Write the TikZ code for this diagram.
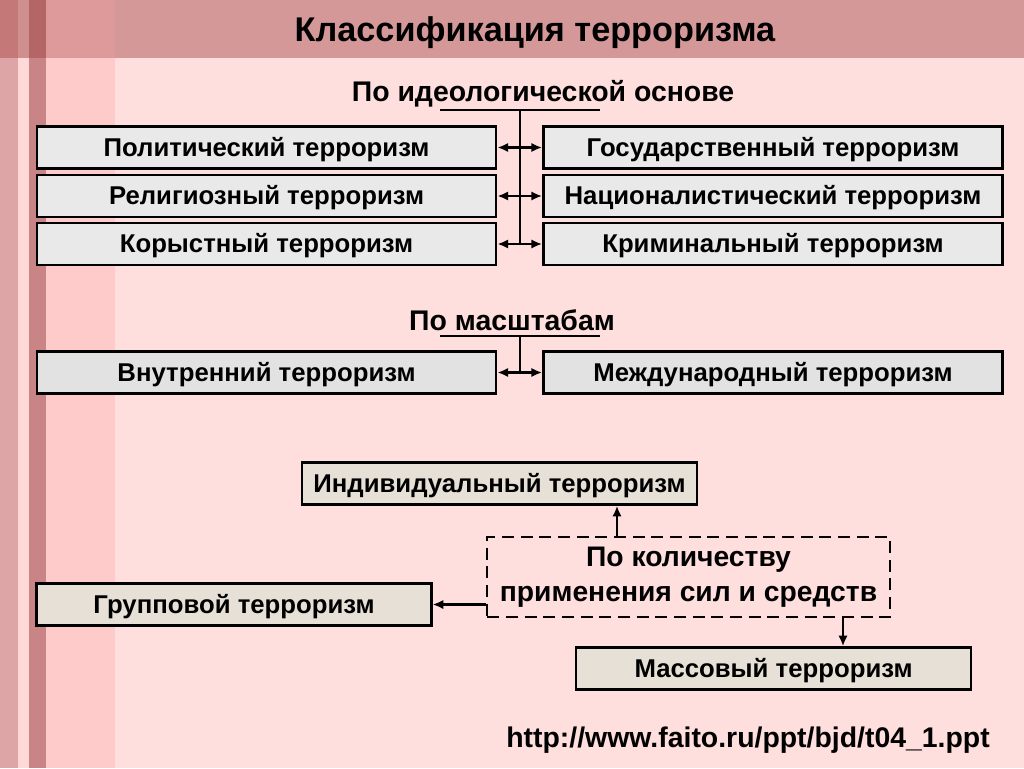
\documentclass[tikz,border=0pt]{standalone}
\usepackage{fontspec}
\setmainfont{Liberation Sans}
\usetikzlibrary{arrows.meta, positioning, calc}

\definecolor{bgpink}{HTML}{FFDEDE}
\definecolor{bgband}{HTML}{D49898}
\definecolor{stripa}{HTML}{DDA5A5}
\definecolor{stripb}{HTML}{FFD8D8}
\definecolor{stripc}{HTML}{C98585}
\definecolor{stripd}{HTML}{FFCACA}
\definecolor{banda}{HTML}{C47878}
\definecolor{bandb}{HTML}{CF8F8F}
\definecolor{bandc}{HTML}{B46666}
\definecolor{bandd}{HTML}{DE9A9A}
\definecolor{marble}{HTML}{E9E9E9}
\definecolor{marbledark}{HTML}{E2E2E2}
\definecolor{sand}{HTML}{E6E0D6}

\tikzset{
    termbox/.style={draw, line width=1.9pt, minimum height=31.5pt, inner sep=0pt,
        text height=15pt, text depth=2pt,
        font=\bfseries\fontsize{19.3}{23}\selectfont},
    widebox/.style={termbox, minimum width=344.5pt, fill=marble},
    sandbox/.style={termbox, minimum width=296pt, fill=sand},
    heading/.style={font=\bfseries\fontsize{21.3}{25}\selectfont, inner sep=0pt},
    link/.style={line width=1.9pt}
}

\begin{document}
\begin{tikzpicture}[x=0.75pt, y=-0.75pt, >={Latex[length=8pt, width=7pt]}]
        % background strips
        \fill[bgpink] (0,0) rectangle (1024,768);
        \fill[stripd] (46,0) rectangle (115,768);
        \fill[stripa] (0,0) rectangle (18,768);
        \fill[stripb] (18,0) rectangle (29,768);
        \fill[stripc] (29,0) rectangle (46,768);
        \fill[bgband] (0,0) rectangle (1024,58);
        \fill[bandd] (46,0) rectangle (115,58);
        \fill[banda] (0,0) rectangle (18,58);
        \fill[bandb] (18,0) rectangle (29,58);
        \fill[bandc] (29,0) rectangle (46,58);

        \node[heading, font=\bfseries\fontsize{25.7}{30}\selectfont] (title) at (535,33) {Классификация терроризма};

        % by ideology
        \node[heading] (ideo) at (543,94) {По идеологической основе};
        \node[widebox] (pol) at (266.5,147.5) {Политический терроризм};
        \node[widebox] (rel) at (266.5,196) {Религиозный терроризм};
        \node[widebox] (kor) at (266.5,244) {Корыстный терроризм};
        \node[widebox] (gos) at (773,147.5) {Государственный терроризм};
        \node[widebox] (nac) at (773,196) {Националистический терроризм};
        \node[widebox] (kri) at (773,244) {Криминальный терроризм};
        \coordinate (ideo-l) at (440,110);
        \coordinate (ideo-r) at (600,110);
        \coordinate (ideo-m) at (520,110);

        \draw[link] (ideo-l) -- (ideo-r);
        \draw[link] (ideo-m) -- (ideo-m |- kor.east);
        \draw[link, <->] (pol) -- (gos);
        \draw[link, <->] (rel) -- (nac);
        \draw[link, <->] (kor) -- (kri);

        % by scale
        \node[heading] (scale) at (512,320) {По масштабам};
        \node[widebox, fill=marbledark] (vnu) at (266.5,372.5) {Внутренний терроризм};
        \node[widebox, fill=marbledark] (mez) at (773,372.5) {Международный терроризм};
        \coordinate (scale-l) at (440,336);
        \coordinate (scale-r) at (600,336);
        \coordinate (scale-m) at (520,336);

        \draw[link] (scale-l) -- (scale-r);
        \draw[link] (scale-m) -- (scale-m |- vnu.east);
        \draw[link, <->] (vnu) -- (mez);

        % by forces and means
        \node[termbox, dash pattern=on 9pt off 5pt, minimum width=302pt, minimum height=60pt, align=center,
              text height=, text depth=,
              font=\bfseries\fontsize{21.2}{26}\selectfont] (means) at (688.5,577)
              {\rule{0pt}{6pt}По количеству\\применения сил и средств};
        \node[sandbox] (ind) at (499.5,483.5) {Индивидуальный терроризм};
        \node[sandbox] (grp) at (234,604.5) {Групповой терроризм};
        \node[sandbox] (mas) at (773.5,668.5) {Массовый терроризм};
        \coordinate (means-up) at (617,537);
        \coordinate (means-down) at (843,617);

        \draw[link, ->] (means-up) -- (means-up |- ind.south);
        \draw[link, ->] (means.west |- grp.east) -- (grp.east);
        \draw[link, ->] (means-down) -- (means-down |- mas.north);

        \node[heading] (url) at (748,740) {http://www.faito.ru/ppt/bjd/t04\_1.ppt};
    \end{tikzpicture}
\end{document}
